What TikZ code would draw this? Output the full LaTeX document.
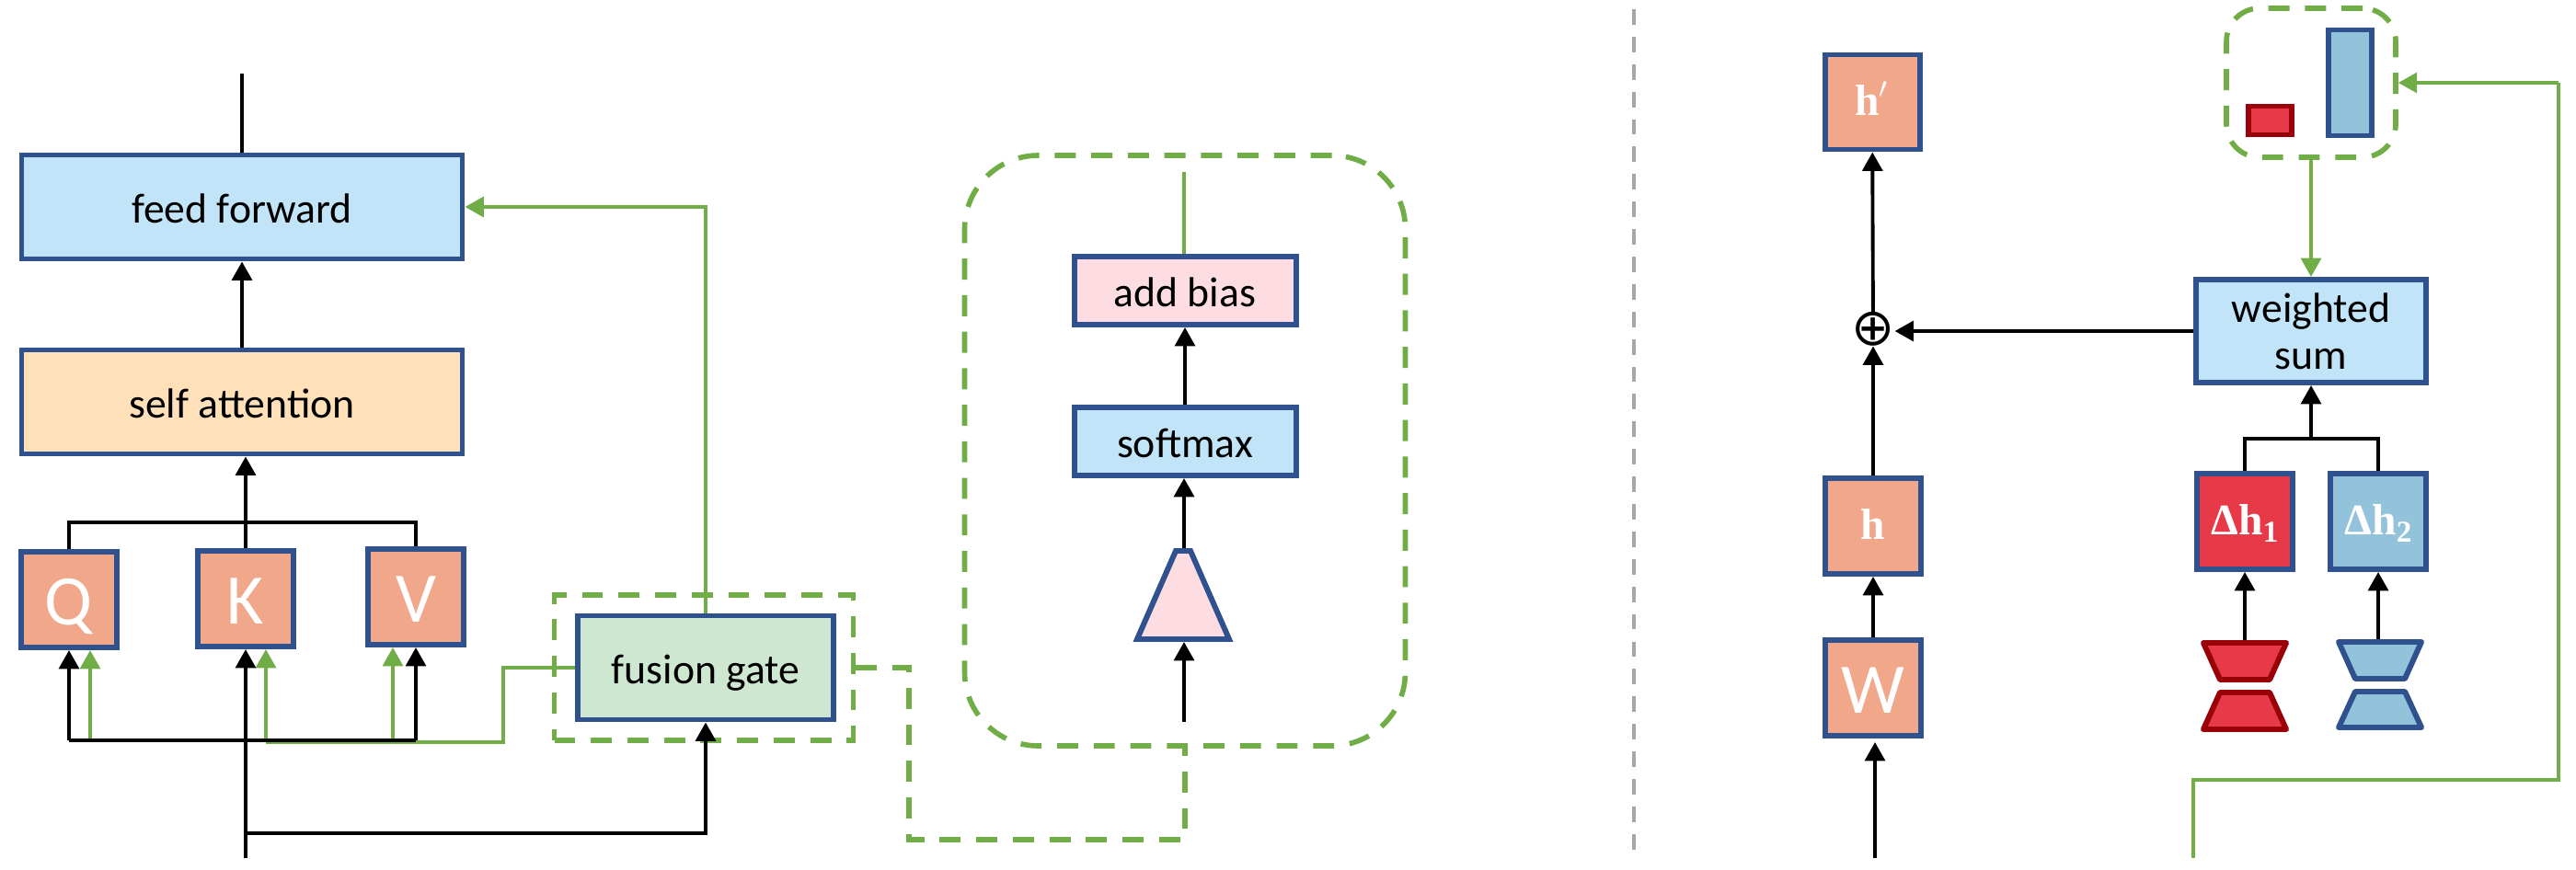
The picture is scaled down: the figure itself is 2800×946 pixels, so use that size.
\documentclass[tikz,border=0pt]{standalone}
\usepackage{fontspec}
\usepackage{xcolor}
\setmainfont{Carlito}
\newfontfamily\symfont{Liberation Serif}
\newfontfamily\plusfont{DejaVu Sans}
\usetikzlibrary{arrows.meta}

\definecolor{colBorder}{HTML}{2F528F}
\definecolor{colSalmon}{HTML}{F1A78A}
\definecolor{colSky}{HTML}{C1E4F8}
\definecolor{colPeach}{HTML}{FFE0B8}
\definecolor{colMint}{HTML}{CEE7D0}
\definecolor{colPink}{HTML}{FDDDE2}
\definecolor{colRed}{HTML}{E83948}
\definecolor{colDarkRed}{HTML}{9A0007}
\definecolor{colSteel}{HTML}{93C3DA}
\definecolor{colGreen}{HTML}{70AD47}
\definecolor{colDivider}{HTML}{A6A6A6}

\newlength{\pxu}
\setlength{\pxu}{0.01cm}
\newcommand{\subdigit}[1]{\raisebox{-2.3pt}{\fontsize{9.4}{10}\selectfont #1}}

\tikzset{
  box/.style={draw=colBorder, line width=1.7pt, inner sep=0pt, align=center, font=\fontsize{13}{14.5}\selectfont},
  oneline/.style={text height=10.2pt, text depth=0pt},
  token/.style={box, fill=colSalmon, text=white, minimum width=104\pxu, minimum height=104\pxu},
  wide/.style={box, oneline, minimum width=479\pxu, minimum height=113\pxu},
  narrow/.style={box, oneline, minimum width=241\pxu, minimum height=74\pxu},
  letter/.style={font=\fontsize{22}{22}\selectfont, text height=15.6pt, text depth=0pt},
  symb/.style={font=\symfont\bfseries\fontsize{13.5}{14}\selectfont, text height=8pt, text depth=0pt},
  neck/.style={line join=round, line width=1.7pt},
  group/.style={draw=colGreen, line width=1.6pt, dash pattern=on 6.5pt off 4.8pt, inner sep=0pt},
  arr/.style={-{Triangle[length=5.8pt,width=6.2pt]}, line width=1.1pt},
  wire/.style={line width=1.1pt},
  garr/.style={arr, colGreen},
  gwire/.style={wire, colGreen},
  gdash/.style={colGreen, line width=1.6pt, dash pattern=on 6.5pt off 4.8pt},
}

\begin{document}
\begin{tikzpicture}[x=0.01cm,y=-0.01cm]
\useasboundingbox (0,0) rectangle (2800,946);

% Divider
\coordinate (divtop) at (1776,10);
\coordinate (divbot) at (1776,933);
\draw[colDivider, line width=1.2pt, dash pattern=on 4.8pt off 3.7pt] (divtop) -- (divbot);

% Encoder side
\node[wide, fill=colSky] (feed) at (263,225) {feed forward};
\node[wide, fill=colPeach] (attn) at (263,437) {self attention};
\node[token, letter] (Q) at (75,652) {Q};
\node[token, letter] (K) at (267,651) {K};
\node[token, letter] (V) at (452,649) {V};
\node[box, oneline, fill=colMint, minimum width=278\pxu, minimum height=113\pxu] (fusion) at (767,726) {fusion gate};
\node[group, minimum width=325\pxu, minimum height=158\pxu] (fusiongroup) at (765,726) {};

% Detail of the gate
\node[group, rounded corners=80\pxu, minimum width=479\pxu, minimum height=642\pxu] (detail) at (1288,490) {};
\node[narrow, fill=colPink] (bias) at (1288,316) {add bias};
\node[narrow, fill=colSky] (soft) at (1288,480) {softmax};
\draw[draw=colBorder, line width=1.7pt, fill=colPink] (1278,599) -- (1294,599) -- (1336,695) -- (1236,695) -- cycle;

% Free ends
\coordinate (outtop) at (263,80);
\coordinate (inleft) at (267,933);
\coordinate (busleft) at (75,805);
\coordinate (busright) at (452,805);
\coordinate (detailin) at (1287,785);
\coordinate (detailtop) at (1287,187);
\coordinate (gatebot) at (1287,698);
\coordinate (gatetop) at (1287,596);
\coordinate (kv) at (267,568);

% Green wires of the gate
\draw[gwire] (fusion.west) -- (547,726) -- (547,807) -- (289,807);
\draw[garr] (98,805) -- (98,707);
\draw[garr] (289,807) -- (289,706);
\draw[garr] (427,805) -- (427,704);
\draw[garr] (fusion.north) -- (767,225) -- (feed.east);
\draw[gwire] (detailtop) -- (bias.north -| detailtop);
\draw[gdash] (fusiongroup.east) -- (988,726) -- (988,913) -- (1288,913) -- (detail.south);

% Black wires
\draw[arr] (attn) -- (feed);
\draw[wire] (feed) -- (outtop);
\draw[wire] (Q.north) |- (kv) -| (V.north);
\draw[arr] (K.north) -- (attn.south -| K.north);
\draw[arr] (inleft) -- (K.south);
\draw[arr] (busleft) -- (Q.south);
\draw[arr] (busright) -- (V.south);
\draw[wire] (busleft) -- (busright);
\draw[arr] (267,906) -| (fusion.south);
\draw[arr] (detailin) -- (gatebot);
\draw[arr] (gatetop) -- (soft.south -| gatetop);
\draw[arr] (soft) -- (bias);

% Adapter side
\node[token, minimum width=103\pxu, minimum height=103\pxu, symb] (hp) at (2035,111) {h$'$};
\node[inner sep=0pt, outer sep=0pt, font=\plusfont\fontsize{16}{16}\selectfont] (plus) at (2036,358) {⊕};
\node[token, symb] (h) at (2036,572) {h};
\node[token, letter] (W) at (2036,748) {W};
\node[box, fill=colSky, minimum width=250\pxu, minimum height=112\pxu] (sum) at (2512,360) {weighted\\sum};
\node[token, fill=colRed, symb] (dh1) at (2440,567) {Δh\subdigit{1}};
\node[token, fill=colSteel, symb] (dh2) at (2585,567) {Δh\subdigit{2}};

% Autoencoders
\draw[neck, draw=colDarkRed, fill=colRed] (2395,699) -- (2485,699) -- (2467,739) -- (2413,739) -- cycle;
\draw[neck, draw=colDarkRed, fill=colRed] (2413,753) -- (2467,753) -- (2485,793) -- (2395,793) -- cycle;
\draw[neck, draw=colBorder, fill=colSteel] (2542,698) -- (2632,698) -- (2614,738) -- (2560,738) -- cycle;
\draw[neck, draw=colBorder, fill=colSteel] (2560,752) -- (2614,752) -- (2632,791) -- (2542,791) -- cycle;

% Weight bars
\node[group, rounded corners=36\pxu, minimum width=184\pxu, minimum height=162\pxu] (weights) at (2512,90) {};
\node[box, draw=colDarkRed, fill=colRed, minimum width=47\pxu, minimum height=31\pxu] (barred) at (2467,131) {};
\node[box, fill=colSteel, minimum width=47\pxu, minimum height=115\pxu] (barblue) at (2554,90) {};

% Free ends
\coordinate (hin) at (2038,933);
\coordinate (hhead) at (2038,807);
\coordinate (sumbus) at (2512,477);
\coordinate (gbot) at (2384,933);
\coordinate (enc1top) at (2440,696);
\coordinate (enc2top) at (2585,695);

% Connections
\draw[arr] (hin) -- (hhead);
\draw[arr] (W) -- (h);
\draw[arr] (h) -- (plus);
\draw[arr] (plus) -- (hp);
\draw[arr] (sum.west) -- (plus.east |- sum.west);
\draw[wire] (dh1.north) |- (sumbus) -| (dh2.north);
\draw[arr] (sumbus) -- (sum.south);
\draw[arr] (enc1top) -- (dh1.south);
\draw[arr] (enc2top) -- (dh2.south);
\draw[garr] (weights.south) -- (sum.north);
\draw[gwire] (gbot) -- (2384,848) -- (2781,848) -- (2781,90);
\draw[garr] (2781,90) -- (weights.east);
\end{tikzpicture}
\end{document}
